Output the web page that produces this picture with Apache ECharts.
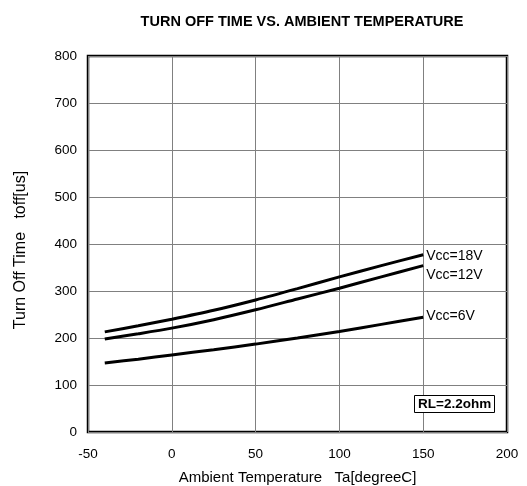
<!DOCTYPE html>
<html><head><meta charset="utf-8">
<script src="https://cdn.jsdelivr.net/npm/echarts@6/dist/echarts.min.js"></script>
<style>html,body{margin:0;padding:0;background:#fff}#c{width:527px;height:486px}</style>
</head><body><div id="c"></div>
<script>
const temps = [-40, -20, 0, 25, 50, 75, 100, 125, 150];
const vcc18 = [213, 226, 240, 259, 281, 305, 330, 354, 377];
const vcc12 = [198, 209, 221, 239, 260, 283, 306, 330, 354];
const vcc6  = [147, 155, 164, 175, 187, 200, 214, 229, 244];
const seriesNames = ['Vcc=18V', 'Vcc=12V', 'Vcc=6V'];
const titleText = 'TURN OFF TIME VS. AMBIENT TEMPERATURE';
const xName = 'Ambient Temperature   Ta[degreeC]';
const yName = 'Turn Off Time   toff[us]';
const noteText = 'RL=2.2ohm';

const font = '"Liberation Sans", Arial, sans-serif';
function pairs(v){ return temps.map((t,i)=>[t, v[i]]); }
function mk(name, v, off){
  return {
    name, type:'line', data:pairs(v), smooth:0.3, symbol:'none',
    lineStyle:{color:'#000', width:3},
    endLabel:{show:true, formatter:'{a}', color:'#000', fontFamily:font, fontSize:14, distance:3, offset:off},
    animation:false
  };
}
const chart = echarts.init(document.getElementById('c'));
chart.setOption({
  animation:false,
  title:[
    {text:titleText, left:297, top:9, textAlign:'center',
     textStyle:{fontFamily:font, fontSize:14.5, fontWeight:'bold', color:'#000'}},
    {text:noteText, left:414, top:395, borderColor:'#000', borderWidth:1, padding:[1,4,1,4],
     backgroundColor:'#fff',
     textStyle:{fontFamily:font, fontSize:13.5, fontWeight:'bold', color:'#000', lineHeight:16}}
  ],
  grid:{left:88, right:20, top:56, bottom:54, containLabel:false, outerBoundsMode:'none',
        show:true, borderColor:'#000', borderWidth:2.5, backgroundColor:'transparent'},
  xAxis:{type:'value', min:-50, max:200, interval:50,
    name:xName, nameLocation:'middle', nameGap:38,
    nameTextStyle:{fontFamily:font, fontSize:15, color:'#000'},
    axisLine:{show:false}, axisTick:{show:false},
    axisLabel:{fontFamily:font, fontSize:13.5, color:'#000', margin:15},
    splitLine:{show:true, lineStyle:{color:'#808080', width:1}}},
  yAxis:{type:'value', min:0, max:800, interval:100,
    name:yName, nameLocation:'middle', nameGap:59,
    nameTextStyle:{fontFamily:font, fontSize:16, color:'#000', padding:[0,12,0,0]},
    axisLine:{show:false}, axisTick:{show:false},
    axisLabel:{fontFamily:font, fontSize:13.5, color:'#000', margin:11},
    splitLine:{show:true, lineStyle:{color:'#808080', width:1}}},
  series:[
    mk(seriesNames[0], vcc18, [0,1]),
    mk(seriesNames[1], vcc12, [0,10]),
    mk(seriesNames[2], vcc6, [0,-1])
  ]
});
</script></body></html>
